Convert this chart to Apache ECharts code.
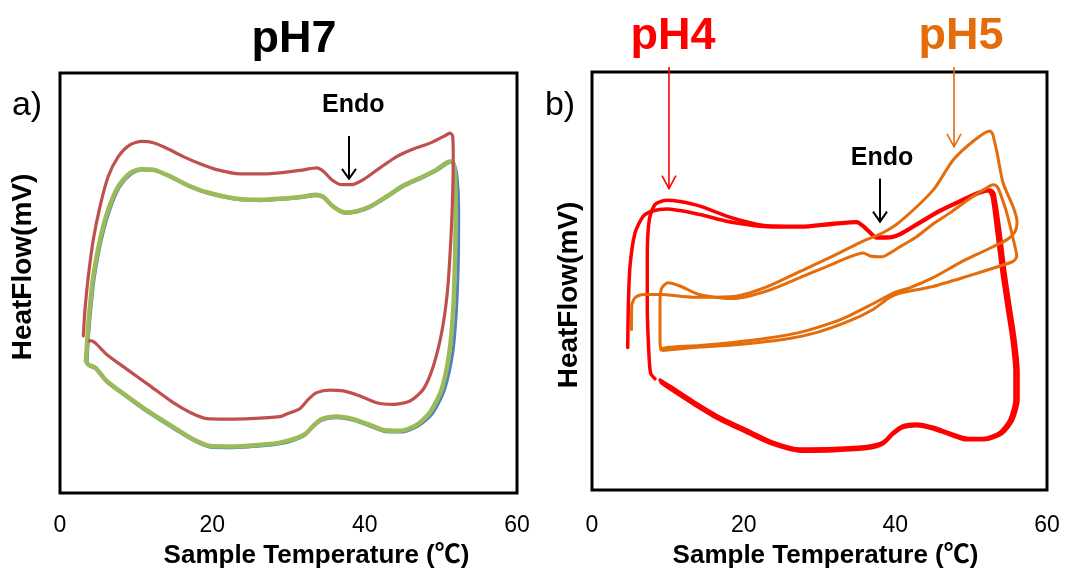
<!DOCTYPE html>
<html>
<head>
<meta charset="utf-8">
<script src="https://cdn.jsdelivr.net/npm/echarts@6/dist/echarts.min.js"></script>
<style>
  html, body { margin: 0; padding: 0; background: #fff; }
  #chart { width: 1065px; height: 574px; }
</style>
</head>
<body>
<div id="chart"></div>
<script>
// Temperature ticks shared by both panels (°C)
const tempTicks = [0, 20, 40, 60];

// Panel a) pH7 — three heating/cooling cycles, [temperature °C, heat flow (rel. units)]
const ph7Run1 = [[3.06,37.4],[3.28,43.7],[3.72,51.6],[4.37,60.3],[5.25,68.2],[6.34,75.4],[7.65,80.1],[9.19,82.9],[10.73,83.7],[12.25,83.4],[14.01,82.1],[16.19,80.1],[18.38,78.4],[20.57,77.0],[23.63,76.0],[27.14,76.0],[31.51,76.8],[33.70,77.4],[34.57,76.6],[35.67,74.6],[36.98,73.4],[38.30,73.4],[39.82,74.6],[42.01,77.4],[44.20,80.1],[46.38,81.9],[48.58,83.3],[50.77,85.3],[51.20,85.7],[51.56,84.9],[51.63,80.1],[51.56,71.4],[51.29,59.5],[50.85,47.7],[50.11,38.2],[49.01,30.2],[47.70,24.7],[45.95,21.9],[43.76,21.1],[41.58,21.5],[39.39,23.1],[37.19,24.3],[35.45,24.5],[33.70,23.9],[32.60,22.3],[31.51,20.1],[29.76,18.8],[28.88,18.2],[24.94,17.7],[21.89,17.6],[19.26,17.7],[17.07,19.2],[14.87,21.5],[11.82,25.5],[8.76,29.5],[6.13,33.0],[4.82,35.4],[4.16,36.2],[3.85,36.2]];
const ph7Run2 = [[3.55,31.0],[3.72,36.4],[4.00,42.8],[4.52,51.4],[5.40,60.0],[6.50,67.2],[7.80,72.8],[9.30,75.9],[10.80,76.9],[12.30,76.8],[14.50,75.2],[16.70,73.2],[19.30,71.4],[22.80,70.0],[26.30,69.6],[29.80,70.0],[31.50,70.3],[33.70,70.8],[34.60,70.3],[35.90,68.0],[37.40,66.6],[39.00,66.9],[40.70,68.0],[42.90,70.4],[45.10,73.0],[47.30,74.8],[49.50,76.8],[51.25,78.7],[51.75,78.3],[52.15,75.0],[52.35,67.2],[52.30,55.4],[52.05,43.5],[51.55,33.2],[50.45,24.4],[48.90,18.9],[47.00,15.9],[44.70,14.5],[42.45,14.7],[40.70,15.9],[38.50,17.3],[36.30,17.9],[34.35,17.3],[33.20,15.7],[32.10,13.7],[30.60,12.5],[28.90,11.7],[27.10,11.3],[22.75,10.8],[19.70,10.9],[17.50,12.5],[15.30,14.9],[11.80,18.9],[8.80,22.8],[6.15,26.4],[4.65,29.6],[3.80,30.3],[3.55,31.0]];
const ph7Run3 = [[3.41,31.4],[3.58,36.6],[3.85,42.9],[4.37,51.6],[5.25,60.3],[6.34,67.5],[7.65,73.0],[9.19,76.2],[10.73,77.1],[12.25,77.0],[14.44,75.4],[16.63,73.4],[19.26,71.6],[22.75,70.2],[26.26,69.8],[29.76,70.2],[31.51,70.5],[33.70,71.0],[34.57,70.5],[35.88,68.2],[37.42,66.8],[38.95,67.1],[40.70,68.2],[42.89,70.6],[45.07,73.2],[47.26,75.0],[49.45,77.0],[51.20,78.9],[51.63,78.6],[51.86,75.4],[51.95,67.5],[51.86,55.6],[51.63,43.7],[51.11,33.4],[50.11,24.7],[48.58,19.2],[46.83,16.2],[44.64,14.8],[42.45,15.0],[40.70,16.2],[38.51,17.6],[36.33,18.2],[34.36,17.6],[33.25,16.0],[32.17,14.0],[30.63,12.8],[28.88,12.0],[27.14,11.6],[22.75,11.1],[19.69,11.2],[17.50,12.8],[15.32,15.2],[11.82,19.2],[8.76,23.1],[6.13,26.7],[4.60,29.9],[3.72,30.6],[3.41,31.4]];

// Panel b) pH4 — two cycles
const ph4Run1 = [[4.71,34.1],[4.79,44.0],[5.01,53.5],[5.67,61.5],[6.77,65.5],[8.08,66.8],[9.85,67.2],[14.24,65.9],[17.76,64.3],[20.84,63.4],[23.04,63.0],[27.43,62.9],[31.82,63.6],[34.91,64.0],[35.78,63.0],[36.66,61.5],[37.54,60.3],[38.86,60.3],[40.62,61.1],[43.25,63.9],[45.89,66.7],[48.53,69.0],[51.17,71.1],[52.26,71.6],[52.75,70.4],[53.41,61.6],[54.07,52.0],[54.73,43.9],[55.39,36.0],[55.78,28.2],[55.78,21.7],[55.12,16.9],[53.80,13.8],[51.60,12.3],[49.41,12.4],[47.21,13.6],[45.01,15.0],[42.82,15.8],[41.05,15.4],[39.73,13.8],[38.41,11.5],[36.23,10.4],[31.82,9.9],[27.43,9.8],[23.91,11.4],[20.84,14.0],[16.88,17.4],[13.36,21.2],[10.29,24.8],[8.97,26.3]];
const ph4Run2 = [[8.31,26.6],[7.74,27.9],[7.52,32.0],[7.29,43.9],[7.29,55.8],[7.56,64.7],[8.31,68.3],[9.85,69.3],[11.60,69.0],[14.24,67.9],[18.63,65.0],[23.04,63.2],[27.43,63.1],[31.82,63.8],[34.91,64.2],[35.78,63.2],[36.66,61.7],[37.54,60.5],[38.86,60.5],[40.62,61.3],[43.25,64.1],[45.89,66.9],[48.53,69.2],[51.17,71.3],[52.49,71.8],[53.01,70.9],[53.80,61.6],[54.46,52.0],[55.12,43.9],[55.78,36.0],[56.18,28.2],[56.18,21.7],[55.45,16.7],[54.07,13.5],[51.69,12.0],[49.41,12.0],[47.21,13.2],[45.01,14.6],[42.82,15.4],[41.05,15.0],[39.73,13.4],[38.41,11.1],[36.23,9.9],[31.82,9.4],[27.43,9.3],[23.91,10.9],[20.84,13.4],[16.88,16.8],[13.36,20.6],[10.29,24.2],[9.10,25.7]];

// Panel b) pH5 — two cycles
const ph5Run1 = [[5.21,38.4],[5.24,44.0],[5.67,46.0],[6.77,46.8],[8.97,46.8],[13.36,46.1],[18.63,46.3],[23.04,48.6],[27.43,52.3],[31.82,56.0],[35.34,59.2],[38.41,61.6],[40.62,64.2],[45.01,71.8],[47.65,79.0],[50.51,83.8],[52.49,85.9],[52.82,85.2],[53.41,80.7],[54.20,73.5],[55.52,67.8],[56.05,64.2],[55.78,61.8],[54.73,59.9],[51.83,57.3],[48.53,54.4],[44.97,50.8],[41.94,48.4],[39.96,47.3],[38.64,46.1],[36.66,44.2],[34.02,41.8],[31.78,40.1],[27.43,37.7],[23.08,36.3],[18.59,35.3],[14.24,34.6],[9.89,34.1],[9.10,33.8]];
const ph5Run2 = [[9.10,33.5],[8.97,35.3],[8.97,44.9],[9.17,48.2],[10.02,49.6],[11.60,48.8],[14.24,46.7],[18.63,45.8],[23.04,47.6],[27.43,50.8],[31.82,54.1],[35.78,56.7],[36.66,56.0],[38.20,55.8],[39.30,56.7],[40.62,58.2],[42.82,60.6],[45.01,63.7],[47.21,66.3],[49.41,69.2],[51.60,71.8],[52.93,73.0],[53.41,72.6],[53.80,71.1],[54.69,66.3],[55.56,59.9],[56.01,55.9],[55.52,54.7],[53.80,53.6],[49.45,51.1],[44.97,48.7],[40.62,47.1],[39.30,46.1],[37.06,43.2],[34.02,40.5],[29.67,37.7],[25.19,36.0],[18.59,34.7],[14.24,34.2],[9.36,33.4]];

// Annotation anchors in data space: [tail, tip] of each arrow, label centres
const endoArrowA = [[37.94, 85.0], [37.94, 74.8]];
const endoLabelA = [38.5, 92.4];
const endoArrowB = [[37.98, 74.5], [37.98, 64.2]];
const endoLabelB = [38.24, 79.4];
const ph4Arrow = [[10.15, 101.2], [10.15, 72.1]];
const ph5Arrow = [[47.74, 101.2], [47.74, 82.1]];

const FONT = '"Liberation Sans", Arial, Helvetica, sans-serif';
// Latin text in Liberation Sans, the ℃ sign from the CJK face (full-width)
const TITLE_FONT = '"Liberation Sans", "Noto Sans CJK JP", sans-serif';
const RED4 = '#FF0000';
const ORANGE5 = '#E46C0A';

const chart = echarts.init(document.getElementById('chart'), null, { renderer: 'canvas' });

function xAxisFor(gridIndex, labelMargin, nameGap, nameShift) {
  return {
    type: 'value', gridIndex,
    min: tempTicks[0], max: tempTicks[tempTicks.length - 1],
    interval: tempTicks[1] - tempTicks[0],
    axisLine: { show: false }, axisTick: { show: false }, splitLine: { show: false },
    axisLabel: { margin: labelMargin, fontSize: 23, color: '#000', fontFamily: FONT },
    name: 'Sample Temperature (℃)', nameLocation: 'middle', nameGap,
    nameTextStyle: { fontSize: 26, fontWeight: 'bold', color: '#000', fontFamily: TITLE_FONT,
                     padding: [0, 0, 0, nameShift * 2] }
  };
}
function yAxisFor(gridIndex) {
  return {
    type: 'value', gridIndex, min: 0, max: 100,
    axisLine: { show: false }, axisTick: { show: false },
    axisLabel: { show: false }, splitLine: { show: false }
  };
}
function loop(name, data, axis, color, width, z) {
  return {
    name, type: 'line', data, xAxisIndex: axis, yAxisIndex: axis,
    showSymbol: false, symbol: 'none', smooth: 0.25, z,
    lineStyle: { color, width, cap: 'round', join: 'round' },
    emphasis: { disabled: true }
  };
}

chart.setOption({
  animation: false,
  backgroundColor: '#fff',
  grid: [
    { left: 60, top: 73, width: 457, height: 421, show: true,
      borderColor: '#000', borderWidth: 3, backgroundColor: 'transparent' },
    { left: 592, top: 72, width: 455, height: 419, show: true,
      borderColor: '#000', borderWidth: 3, backgroundColor: 'transparent' }
  ],
  xAxis: [xAxisFor(0, 21, 50, 28), xAxisFor(1, 24, 53, 6)],
  yAxis: [yAxisFor(0), yAxisFor(1)],
  series: [
    loop('pH7 run 2', ph7Run2, 0, '#4F81BD', 3, 2),
    loop('pH7 run 3', ph7Run3, 0, '#9BBB59', 4.5, 3),
    loop('pH7 run 1', ph7Run1, 0, '#C0504D', 3.2, 4),
    loop('pH4 run 1', ph4Run1, 1, RED4, 3.5, 2),
    loop('pH4 run 2', ph4Run2, 1, RED4, 3.5, 2),
    loop('pH5 run 1', ph5Run1, 1, ORANGE5, 3, 3),
    loop('pH5 run 2', ph5Run2, 1, ORANGE5, 3, 3)
  ]
});

// Arrow annotations: shaft plus an open V head, placed through the axis scales
function arrow(gridIndex, pts, color, width, hw, hl) {
  const a = chart.convertToPixel({ gridIndex }, pts[0]);
  const b = chart.convertToPixel({ gridIndex }, pts[1]);
  return [
    { type: 'line', z: 10, shape: { x1: a[0], y1: a[1], x2: b[0], y2: b[1] },
      style: { stroke: color, lineWidth: width } },
    { type: 'polyline', z: 10,
      shape: { points: [[b[0] - hw, b[1] - hl], [b[0], b[1]], [b[0] + hw, b[1] - hl]] },
      style: { stroke: color, lineWidth: width, fill: null } }
  ];
}
function label(gridIndex, at, text, color, size) {
  const p = chart.convertToPixel({ gridIndex }, at);
  return { type: 'text', z: 10, x: p[0], y: p[1],
    style: { text, fill: color, font: 'bold ' + size + 'px ' + FONT, align: 'center', verticalAlign: 'middle' } };
}
function fixedText(x, y, text, color, font, rotation) {
  return { type: 'text', z: 10, x, y, rotation: rotation || 0,
    style: { text, fill: color, font, align: 'center', verticalAlign: 'middle' } };
}

chart.setOption({
  graphic: [
    fixedText(294, 40, 'pH7', '#000', 'bold 45px ' + FONT),
    fixedText(673, 37, 'pH4', RED4, 'bold 45px ' + FONT),
    fixedText(961, 37, 'pH5', ORANGE5, 'bold 45px ' + FONT),
    fixedText(27, 106, 'a)', '#000', '34px ' + FONT),
    fixedText(560, 106, 'b)', '#000', '34px ' + FONT),
    fixedText(23, 267, 'HeatFlow(mV)', '#000', 'bold 28px ' + FONT, Math.PI / 2),
    fixedText(569, 295, 'HeatFlow(mV)', '#000', 'bold 28px ' + FONT, Math.PI / 2),
    label(0, endoLabelA, 'Endo', '#000', 25),
    label(1, endoLabelB, 'Endo', '#000', 25),
    ...arrow(0, endoArrowA, '#000', 2, 7, 10),
    ...arrow(1, endoArrowB, '#000', 2, 7, 10),
    ...arrow(1, ph4Arrow, RED4, 1.6, 7, 13),
    ...arrow(1, ph5Arrow, ORANGE5, 1.6, 7, 13)
  ]
});
</script>
</body>
</html>
